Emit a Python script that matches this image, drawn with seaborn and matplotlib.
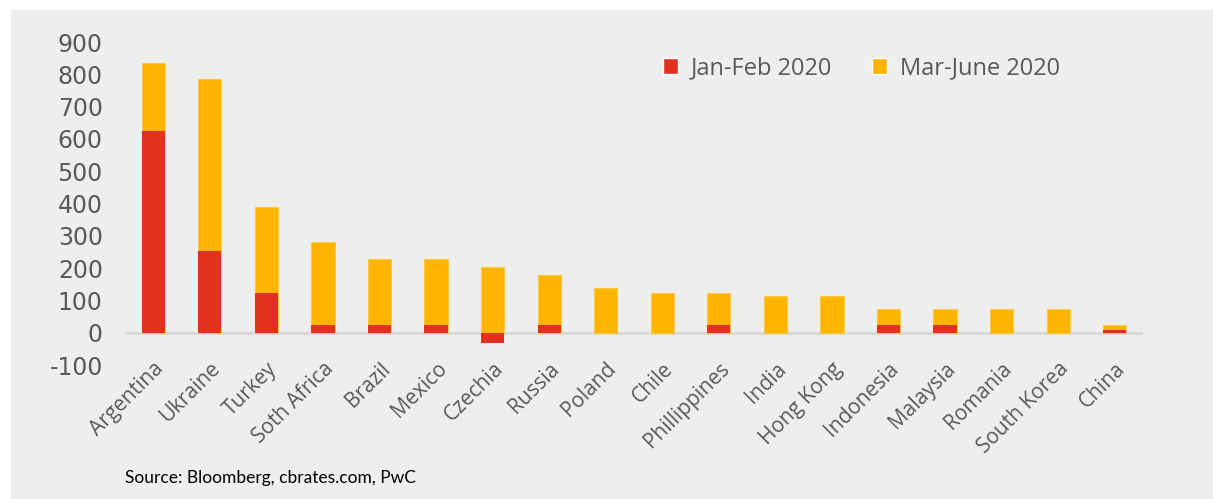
import numpy as np
import pandas as pd
import seaborn as sns
import matplotlib.pyplot as plt
from matplotlib.patches import Patch, Rectangle


countries = ['Argentina', 'Ukraine', 'Turkey', 'Soth Africa', 'Brazil', 'Mexico',
             'Czechia', 'Russia', 'Poland', 'Chile', 'Phillippines', 'India',
             'Hong Kong', 'Indonesia', 'Malaysia', 'Romania', 'South Korea', 'China']
jan_feb = [625, 255, 125, 25, 25, 25, -30, 25, 0, 0, 25, 0, 0, 25, 25, 0, 0, 10]
mar_june = [210, 530, 265, 255, 205, 205, 205, 155, 140, 125, 100, 115, 115, 50, 50, 75, 75, 15]
y_ticks = [-100, 0, 100, 200, 300, 400, 500, 600, 700, 800, 900]

RED = '#E1311E'
AMBER = '#FFB500'
BG = '#EEEEEE'
TXT = '#595959'

sns.set_theme(style='white')
plt.rcParams['font.family'] = ['DejaVu Sans']

# stacked bars: positive parts stack, negative Jan-Feb goes below zero
df = pd.DataFrame({'country': countries, 'jan_feb': jan_feb, 'mar_june': mar_june})
df['top'] = df['mar_june'] + df['jan_feb'].clip(lower=0)

W, H = 1213, 499
fig = plt.figure(figsize=(W / 100, H / 100), dpi=100, facecolor='white')
fig.patches.append(Rectangle((11 / W, 0), 1 - 11 / W, 1 - 10 / H,
                             transform=fig.transFigure, facecolor=BG,
                             edgecolor='none', zorder=-10))

ax = fig.add_axes([125 / W, 1 - 365.3 / H, (1143 - 125) / W, (365.3 - 42) / H])
ax.set_facecolor(BG)

sns.barplot(data=df, x='country', y='top', color=AMBER, width=0.41,
            saturation=1, ax=ax, zorder=2, linewidth=0.8, edgecolor='#FFC93F')
sns.barplot(data=df, x='country', y='jan_feb', color=RED, width=0.41,
            saturation=1, ax=ax, zorder=3, linewidth=0)

ax.axhline(0, color='#D9D9D9', lw=2.2, zorder=1)
ax.set_xlim(-0.5, len(countries) - 0.5)
ax.set_ylim(-100, 900)
ax.set_yticks(y_ticks)
ax.set_yticklabels([str(v) for v in y_ticks])
ax.set_xlabel('')
ax.set_ylabel('')
for s in ax.spines.values():
    s.set_visible(False)

ax.tick_params(axis='y', length=0, pad=16, labelsize=17, labelcolor=TXT)
ax.tick_params(axis='x', length=0, pad=-5, labelcolor=TXT)
for lab in ax.get_xticklabels():
    lab.set_rotation(45)
    lab.set_ha('right')
    lab.set_rotation_mode('anchor')
    lab.set_fontfamily('Open Sans')
    lab.set_fontsize(15)

handles = [Patch(facecolor=RED, label='Jan-Feb 2020'),
           Patch(facecolor=AMBER, label='Mar-June 2020')]
leg = ax.legend(handles=handles, loc='upper left', ncol=2, frameon=False,
                bbox_to_anchor=(663 / W, 1 - 56 / H), bbox_transform=fig.transFigure,
                borderaxespad=0, borderpad=0, handlelength=0.65, handleheight=0.65,
                handletextpad=0.55, columnspacing=1.65,
                prop={'family': 'Open Sans', 'size': 17})
for t in leg.get_texts():
    t.set_color(TXT)

fig.text(125 / W, 1 - 478 / H, 'Source: Bloomberg, cbrates.com, PwC',
         fontsize=12.5, family='Lato', color='black', va='center', ha='left')

fig.savefig('out.png', dpi=100, facecolor=fig.get_facecolor())
